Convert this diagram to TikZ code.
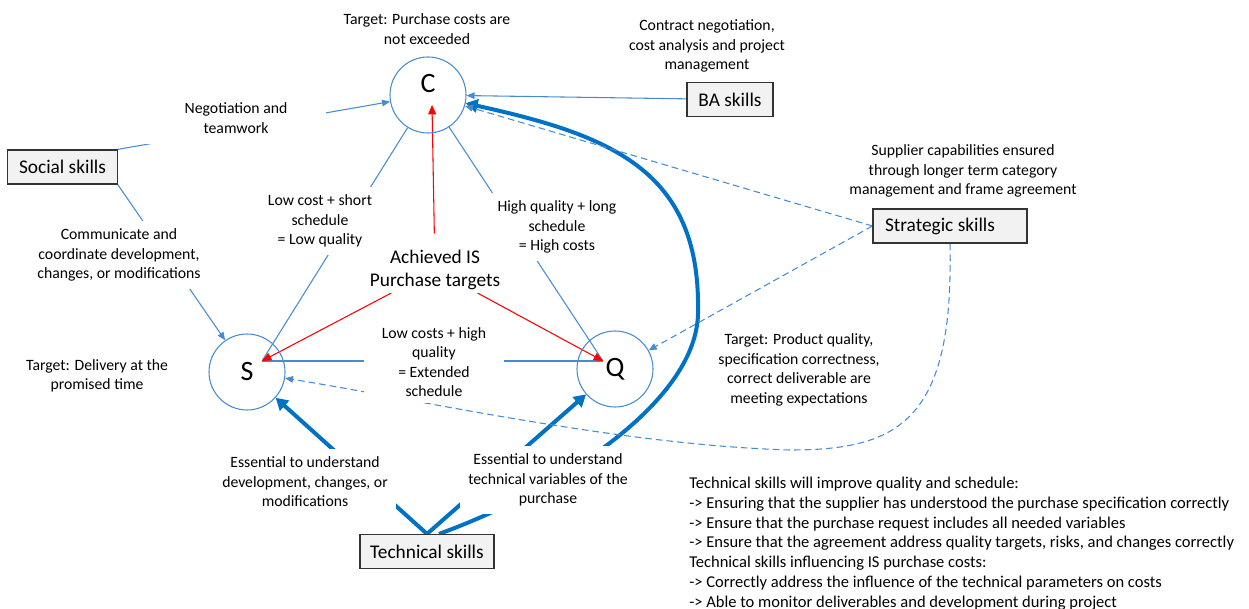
\documentclass[tikz,border=0pt]{standalone}
\usepackage{fontspec}
\setmainfont{Carlito}
\usetikzlibrary{arrows.meta}
\definecolor{lineblue}{RGB}{70,140,208}
\definecolor{thickblue}{RGB}{0,114,198}
\pgfdeclarelayer{back}
\pgfsetlayers{back,main}
\begin{document}
\begin{tikzpicture}[x=0.75pt,y=-0.75pt,
lbl/.style={align=center, font=\fontsize{11.8}{14.6}\selectfont, fill=white, inner sep=6pt},
skillbox/.style={draw=black!80, line width=0.9pt, fill=black!5, minimum height=25.5pt, font=\fontsize{14.5}{17}\selectfont},
target/.style={circle, draw=lineblue, line width=0.8pt, minimum size=57pt, inner sep=0pt, font=\fontsize{21}{24}\selectfont},
thin/.style={draw=lineblue, line width=0.8pt},
arr/.style={thin, -{Triangle[length=6pt,width=5pt]}},
dasharr/.style={arr, dash pattern=on 5pt off 3pt},
thickarr/.style={draw=thickblue, line width=3pt, -{Triangle[length=9pt,width=10pt]}},
redarr/.style={draw=red, line width=0.8pt, -{Triangle[length=7pt,width=6pt]}}]
\useasboundingbox (0,0) rectangle (1249,609);
\node[target] (C) at (428,95){\raisebox{1.5pt}[0pt][0pt]{C}};
\node[target] (S) at (247,372){S};
\node[target] (Q) at (615,369){Q};
\node[skillbox, minimum width=82pt] (social) at (62.5,167){Social skills};
\node[skillbox, minimum width=64.5pt] (BA) at (730,99.5){BA skills};
\node[skillbox, minimum width=113pt, inner xsep=9pt] (strat) at (950,226){Strategic skills\hspace{15pt}\null};
\node[skillbox, minimum width=100.5pt] (tech) at (427,551.5){Technical skills};
\node[lbl] (tC) at (427,29){Target: Purchase costs are\\not exceeded};
\node[lbl] (tBA) at (707,46){Contract negotiation,\\cost analysis and project\\management};
\node[lbl, minimum width=135pt, inner ysep=8pt] (negot) at (236,118){Negotiation and\\teamwork};
\node[lbl] (comm) at (119,255){Communicate and\\coordinate development,\\changes, or modifications};
\node[lbl] (tS) at (97,376){Target: Delivery at the\\promised time};
\node[lbl] (tQ) at (799,370){Target: Product quality,\\specification correctness,\\correct deliverable are\\meeting expectations};
\node[lbl] (tStrat) at (963,171){Supplier capabilities ensured\\through longer term category\\management and frame agreement};
\node[lbl, font=\fontsize{14.5}{17.7}\selectfont, inner sep=2pt] (achieved) at (435,270){Achieved IS\\Purchase targets};
\node[lbl] (lowcost) at (320,221){Low cost + short\\schedule\\= Low quality};
\node[lbl] (highq) at (557,227){High quality + long\\schedule\\= High costs};
\node[lbl, inner xsep=13pt, inner ysep=5pt] (lowq) at (434,362){Low costs + high\\quality\\= Extended\\schedule};
\node[lbl] (essS) at (305,482){Essential to understand\\development, changes, or\\modifications};
\node[lbl] (essQ) at (548,480){Essential to understand\\technical variables of the\\purchase};
\node[lbl, font=\fontsize{12.4}{14.8}\selectfont, align=left, anchor=north west, inner sep=0pt] (notes) at (689,477){Technical skills will improve quality and schedule:\\
-> Ensuring that the supplier has understood the purchase specification correctly\\
-> Ensure that the purchase request includes all needed variables\\
-> Ensure that the agreement address quality targets, risks, and changes correctly\\
Technical skills influencing IS purchase costs:\\
-> Correctly address the influence of the technical parameters on costs\\
-> Able to monitor deliverables and development during project};
\coordinate (cP) at (432,105);
\coordinate (sP) at (262,361);
\coordinate (qP) at (603,361);
\coordinate (bend) at (698,310);
\coordinate (dlow) at (790,450);
\begin{pgfonlayer}{back}
\draw[arr] (social.north east) -- (C);
\draw[arr] (social.south east) -- (S);
\draw[arr] (BA) -- (C);
\draw[thin] (C) -- (sP);
\draw[thin] (C) -- (qP);
\draw[thin] (sP) -- (qP);
\draw[redarr, shorten <=10pt] (achieved) -- (cP);
\draw[redarr] (achieved) -- (sP);
\draw[redarr] (achieved) -- (qP);
\draw[thickarr] (tech.north) -- (S);
\draw[thickarr] (tech.north) -- (Q);
\draw[thickarr] ([xshift=9pt]tech.north) .. controls (560,490) and (700,400) .. (bend) .. controls (700,170) and (610,135) .. (C);
\draw[dasharr] (strat.west) -- (C);
\draw[dasharr] (strat.west) -- (Q);
\draw[dasharr] (strat.south) .. controls (954,420) and (900,450) .. (dlow) .. controls (620,445) and (420,400) .. (S);
\end{pgfonlayer}
\end{tikzpicture}
\end{document}
